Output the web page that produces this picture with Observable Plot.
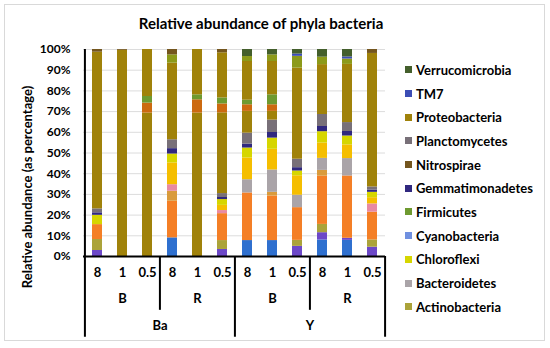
<!DOCTYPE html>
<html><head><meta charset="utf-8">
<script src="https://cdn.jsdelivr.net/npm/d3@7"></script>
<script src="https://cdn.jsdelivr.net/npm/@observablehq/plot@0.6"></script>
<style>
body{margin:0;background:#fff;font-family:Lato,"Open Sans",sans-serif;color:#000;}
#wrap{position:relative;width:550px;height:348px;overflow:hidden;background:#fff;}
#frame{position:absolute;left:4px;top:4px;width:541px;height:337px;border:1px solid #d9d9d9;box-sizing:border-box;}
#chart{position:absolute;left:0;top:0;}
#title{position:absolute;left:0;width:522px;top:14px;text-align:center;font-weight:bold;font-size:15px;}
#ylabel{position:absolute;left:27px;top:187px;transform:translate(-50%,-50%) rotate(-90deg);white-space:nowrap;font-weight:bold;font-size:13px;}
#legend{position:absolute;left:405px;top:58px;height:264px;overflow:hidden;font-weight:bold;font-size:13px;}
.item{height:23.7px;display:flex;align-items:center;white-space:nowrap;}
.sw{width:7px;height:7px;margin-right:4px;flex:none;}
</style>
</head><body>
<div id="wrap">
  <div id="frame"></div>
  <div id="chart"></div>
  <div id="title">Relative abundance of phyla bacteria</div>
  <div id="ylabel">Relative abundance (as percentage)</div>
  <div id="legend"></div>
</div>
<script>
// ---- category levels ----
const concentration = ["8","1","0.5","8","1","0.5","8","1","0.5","8","1","0.5"];
const treatment     = ["B","B","B","R","R","R","B","B","B","R","R","R"];
const site          = ["Ba","Ba","Ba","Ba","Ba","Ba","Y","Y","Y","Y","Y","Y"];

// ---- series values (% per bar), stacked bottom to top ----
const Acidobacteria      = [0,0,0,9.0,0,0,7.7,7.7,0,8.0,7.8,0];
const Armatimonadetes    = [2.9,0,0,0,0,3.4,0,0,4.9,3.5,1.0,4.5];
const Actinobacteria     = [5.3,0,0,0,0,4.3,0,0,2.9,4.0,0,3.5];
const Unclassified       = [7.2,0,0,17.7,0,13.0,23.0,21.5,15.8,23.3,30.1,13.4];
const Chlamydiae         = [0,0,0,4.8,0,0,0,1.8,0,2.8,0,0];
const BRC1               = [0,0,0,3.2,0,1.5,0,0,0,0,0,4.0];
const Bacteroidetes      = [0,0,0,0,0,0,6.4,10.8,6.0,5.8,8.4,0];
const Elusimicrobia      = [0,0,0,10.5,0,2.5,10.5,10.0,9.4,7.4,6.6,3.0];
const Chloroflexi        = [4.5,0,0,4.3,0,2.8,4.8,5.4,2.3,5.5,4.3,2.6];
const Gemmatimonadetes   = [1.2,0,0,2.6,0,1.0,1.9,2.7,1.6,2.5,2.2,1.1];
const Planctomycetes     = [1.9,0,0,4.3,0,1.9,5.3,6.0,4.1,5.8,4.3,1.5];
const Proteobacteria     = [75.7,99.6,69.3,37.0,69.3,39.0,10.5,4.2,44.0,24.1,28.1,64.5];
const Spirochaetes       = [0,0,4.8,0,6.4,4.3,3.2,3.2,0,0,0,0];
const Firmicutes         = [0,0,3.2,0,2.4,2.9,2.2,4.8,0,0,0,0];
const OtherProteobacteria= [0,0,22.7,0,21.9,21.8,18.7,16.1,0,0,0,0];
const Chlorobi           = [0,0,0,4.0,0,0,2.4,3.2,5.7,3.6,2.6,0];
const TM7                = [0,0,0,0,0,0,0,0,1.1,0,1.0,0];
const Nitrospirae        = [1.3,0.4,0,2.6,0,1.6,0,0,0,0,0,1.9];
const Verrucomicrobia    = [0,0,0,0,0,0,3.4,2.6,2.2,3.7,3.6,0];
const Cyanobacteria      = [0,0,0,0,0,0,0,0,0,0,0,0];

const seriesNames = ["Acidobacteria","Armatimonadetes","Actinobacteria","Unclassified","Chlamydiae","BRC1","Bacteroidetes","Elusimicrobia","Chloroflexi","Cyanobacteria","Gemmatimonadetes","Planctomycetes","Proteobacteria","Spirochaetes","Firmicutes","Other Proteobacteria","Chlorobi","TM7","Nitrospirae","Verrucomicrobia"];
const seriesValues = [Acidobacteria,Armatimonadetes,Actinobacteria,Unclassified,Chlamydiae,BRC1,Bacteroidetes,Elusimicrobia,Chloroflexi,Cyanobacteria,Gemmatimonadetes,Planctomycetes,Proteobacteria,Spirochaetes,Firmicutes,OtherProteobacteria,Chlorobi,TM7,Nitrospirae,Verrucomicrobia];
const seriesColors = ["#2f70cf","#6c48c8","#aba33a","#f47f26","#d99b3c","#e88aa2","#aaa4a8","#f5be00","#d6d600","#7090e0","#30287f","#787078","#a0820a","#cc6a10","#6e9a30","#a0820a","#8c9a1a","#3c4db5","#74561e","#445f2c"];

const legendNames = ["Verrucomicrobia","TM7","Proteobacteria","Planctomycetes","Nitrospirae","Gemmatimonadetes","Firmicutes","Cyanobacteria","Chloroflexi","Bacteroidetes","Actinobacteria"];
const yTicks = [0,10,20,30,40,50,60,70,80,90,100];

// ---- build tables ----
const bars = concentration.map((c,i)=>({id: site[i]+"-"+treatment[i]+"-"+c, conc:c, trt:treatment[i], site:site[i], i}));
const ids = bars.map(d=>d.id);
const long = [];
seriesNames.forEach((s,k)=>bars.forEach((b,i)=>long.push({id:b.id, series:s, value:seriesValues[k][i]})));

const plotLeft = 83, plotRight = 385, plotTop = 49, plotBottom = 256;
const step = (plotRight-plotLeft)/bars.length;
const shortDepth = -26, longDepth = -39;

const font = {fontFamily:"Lato, 'Open Sans', sans-serif", fontWeight:"bold"};

const chart = Plot.plot({
  width:550, height:348,
  marginLeft:plotLeft, marginRight:550-plotRight, marginTop:plotTop, marginBottom:348-plotBottom,
  x:{domain:ids, paddingInner:0.6, paddingOuter:0.3, axis:null},
  y:{domain:[0,100], axis:null},
  color:{domain:seriesNames, range:seriesColors},
  style:{background:"transparent", overflow:"visible"},
  marks:[
    Plot.ruleY(yTicks.filter(d=>d>0), {stroke:"#dcdcdc", strokeWidth:1}),
    Plot.barY(long, {x:"id", y:"value", fill:"series", order:seriesNames}),
    Plot.ruleY([0], {stroke:"#000", strokeWidth:2}),
    Plot.ruleX([bars[0]], {x:"id", dx:-step/2, y1:100, y2:longDepth, stroke:"#000", strokeWidth:2}),
    Plot.ruleX(bars.filter(d=>d.i===6), {x:"id", dx:-step/2, y1:0, y2:longDepth, stroke:"#000", strokeWidth:2}),
    Plot.ruleX(bars.filter(d=>d.i===3||d.i===9), {x:"id", dx:-step/2, y1:0, y2:shortDepth, stroke:"#000", strokeWidth:2}),
    Plot.ruleX(bars.filter(d=>d.i===11), {x:"id", dx:step/2, y1:0, y2:longDepth, stroke:"#000", strokeWidth:2}),
    Plot.text(yTicks, {y:d=>d, text:d=>d+"%", frameAnchor:"left", dx:-13, textAnchor:"end", fontSize:12, ...font}),
    Plot.text(bars, {x:"id", text:"conc", frameAnchor:"bottom", dy:20, fontSize:13, ...font}),
    Plot.text(bars.filter(d=>d.i%3===1), {x:"id", text:"trt", frameAnchor:"bottom", dy:46, fontSize:13, ...font}),
    Plot.text(bars.filter(d=>d.i%6===2), {x:"id", text:"site", dx:step/2, frameAnchor:"bottom", dy:73, fontSize:13, ...font})
  ]
});
document.getElementById("chart").appendChild(chart);

const leg = document.getElementById("legend");
legendNames.forEach(n=>{
  const it = document.createElement("div"); it.className="item";
  const sw = document.createElement("span"); sw.className="sw";
  sw.style.background = seriesColors[seriesNames.indexOf(n)];
  const tx = document.createElement("span"); tx.textContent = n;
  it.appendChild(sw); it.appendChild(tx); leg.appendChild(it);
});
</script>
</body></html>
